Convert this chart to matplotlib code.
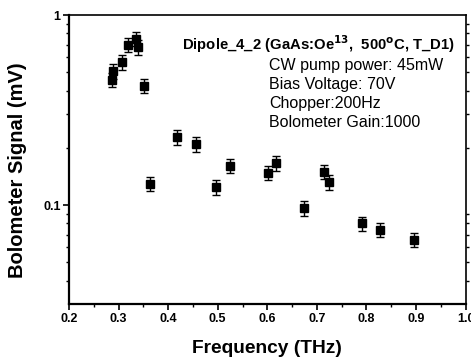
import matplotlib
matplotlib.use("Agg")
import matplotlib.pyplot as plt
from matplotlib.ticker import FixedLocator, NullFormatter, MultipleLocator

plt.rcParams['font.family'] = ['Liberation Sans', 'DejaVu Sans']

# Measured bolometer signal vs. frequency
freq_thz = [0.286, 0.289, 0.307, 0.320, 0.335, 0.340, 0.351, 0.363,
            0.417, 0.457, 0.496, 0.524, 0.602, 0.617, 0.674, 0.714,
            0.725, 0.791, 0.828, 0.896]
signal_mv = [0.457, 0.505, 0.565, 0.697, 0.751, 0.677, 0.425, 0.129,
             0.228, 0.209, 0.124, 0.161, 0.148, 0.167, 0.0964, 0.150,
             0.132, 0.080, 0.0743, 0.0658]
signal_err = [0.040, 0.045, 0.048, 0.060, 0.065, 0.060, 0.037, 0.011,
              0.020, 0.018, 0.011, 0.014, 0.013, 0.015, 0.0085, 0.013,
              0.012, 0.007, 0.0066, 0.0058]

x_ticks = [0.2, 0.3, 0.4, 0.5, 0.6, 0.7, 0.8, 0.9, 1.0]
x_tick_labels = ["0.2", "0.3", "0.4", "0.5", "0.6", "0.7", "0.8", "0.9", "1.0"]
y_ticks = [0.1, 1]
y_tick_labels = ["0.1", "1"]

fig = plt.figure(figsize=(4.71, 3.59), dpi=100)
ax = fig.add_axes([0.1465, 0.152, 0.842, 0.806])

ax.errorbar(freq_thz, signal_mv, yerr=signal_err, fmt='s', color='black',
            markersize=5.5, elinewidth=1.0, capsize=3, capthick=1.0)

ax.set_yscale('log')
ax.set_xlim(0.2, 1.0)
ax.set_ylim(0.03, 1.0)

ax.set_xticks(x_ticks)
ax.set_xticklabels(x_tick_labels, fontweight='bold', fontsize=9)
ax.xaxis.set_minor_locator(MultipleLocator(0.05))
ax.yaxis.set_major_locator(FixedLocator(y_ticks))
ax.set_yticklabels(y_tick_labels, fontweight='bold', fontsize=9)
ax.yaxis.set_minor_locator(FixedLocator(
    [0.04, 0.05, 0.06, 0.07, 0.08, 0.09, 0.2, 0.3, 0.4, 0.5, 0.6, 0.7, 0.8, 0.9]))
ax.yaxis.set_minor_formatter(NullFormatter())

ax.tick_params(which='major', direction='out', length=4, width=1.2, pad=2)
ax.tick_params(which='minor', direction='out', length=2.5, width=1.0)
ax.tick_params(axis='y', which='minor', right=True)

for side in ['left', 'bottom']:
    ax.spines[side].set_linewidth(1.6)
for side in ['top', 'right']:
    ax.spines[side].set_linewidth(1.2)

ax.set_xlabel('Frequency (THz)', fontweight='bold', fontsize=13.8, labelpad=11)
ax.set_ylabel('Bolometer Signal (mV)', fontweight='bold', fontsize=14.5)
ax.yaxis.set_label_coords(-0.105, 0.465)

ax.text(0.286, 0.900, r'Dipole_4_2 (GaAs:Oe$^{\mathbf{13}}$,  500$^{\mathbf{o}}$C, T_D1)',
        transform=ax.transAxes, fontsize=10.7, fontweight='bold', va='center', ha='left')
info_lines = ["CW pump power: 45mW", "Bias Voltage: 70V",
              "Chopper:200Hz", "Bolometer Gain:1000"]
for i, line in enumerate(info_lines):
    ax.text(0.504, 0.827 - i * 0.066, line, transform=ax.transAxes,
            fontsize=11.5, va='center', ha='left')

fig.savefig('out.png', dpi=100)
